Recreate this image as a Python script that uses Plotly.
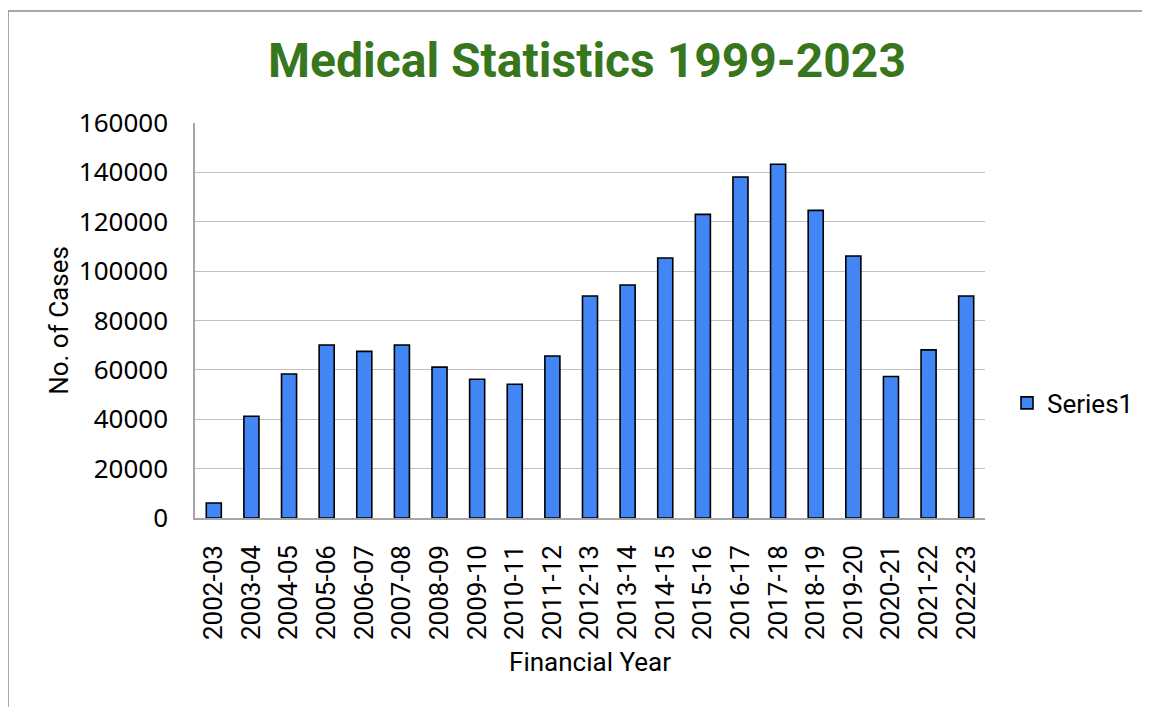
import plotly.graph_objects as go

years = ["2002-03", "2003-04", "2004-05", "2005-06", "2006-07", "2007-08", "2008-09",
         "2009-10", "2010-11", "2011-12", "2012-13", "2013-14", "2014-15", "2015-16",
         "2016-17", "2017-18", "2018-19", "2019-20", "2020-21", "2021-22", "2022-23"]
cases = [6100, 41200, 58300, 70100, 67500, 70100, 61100, 56200, 54200, 65600, 89900,
         94400, 105300, 123000, 138100, 143300, 124600, 106100, 57300, 68100, 89900]
y_ticks = [0, 20000, 40000, 60000, 80000, 100000, 120000, 140000, 160000]

# page body has an 8px margin; work in figure coordinates (reference - 8)
OFF = 8
W, H = 1150 - OFF, 707 - OFF
L, R, T, B = 195 - OFF, 985 - OFF, 123 - OFF, 518 - OFF

fig = go.Figure()
fig.add_trace(go.Bar(
    x=years, y=cases, name="Series1",
    marker=dict(color="#4285F4", line=dict(color="#000000", width=1.6)),
    showlegend=True,
))

fig.update_layout(
    width=W, height=H,
    margin=dict(l=L, r=W - R, t=T, b=H - B, pad=0, autoexpand=False),
    paper_bgcolor="white", plot_bgcolor="white",
    font=dict(family="Roboto", size=26, color="#000000"),
    title=dict(text="<b>Medical Statistics 1999-2023</b>",
               font=dict(family="Roboto", size=48, color="#38761D"),
               x=(587 - OFF) / W, xanchor="center",
               y=1 - (60 - OFF) / H, yanchor="middle"),
    bargap=0.6,
    showlegend=True,
    legend=dict(x=(1007 - 195) / (R - L), xanchor="left",
                y=(518 - 403) / (B - T), yanchor="middle",
                font=dict(family="Roboto", size=26),
                itemwidth=30, bgcolor="rgba(0,0,0,0)"),
    xaxis=dict(type="category",
               title=dict(text="Financial Year", font=dict(size=26), standoff=14),
               tickangle=-90, showgrid=False, showline=True, linecolor="#a6a6a6",
               linewidth=1.5, ticks="", tickfont=dict(family="Roboto", size=26),
               ticklabelstandoff=15),
    yaxis=dict(title=dict(text="No. of Cases", font=dict(size=26), standoff=3),
               range=[0, 160000], tickvals=y_ticks,
               ticktext=[str(v) for v in y_ticks],
               showgrid=True, gridcolor="#c0c0c0", gridwidth=1.3,
               showline=True, linecolor="#a6a6a6", linewidth=1.5,
               ticks="", tickfont=dict(family="Noto Sans", size=26), zeroline=False,
               ticklabelstandoff=20),
    shapes=[dict(type="rect", xref="paper", yref="paper",
                 x0=(0 - L) / (R - L), x1=1.6,
                 y0=-1.0, y1=(B - 3) / (B - T),
                 line=dict(color="#8c8c8c", width=1.5), layer="below")],
)

fig.write_html("out.html")
